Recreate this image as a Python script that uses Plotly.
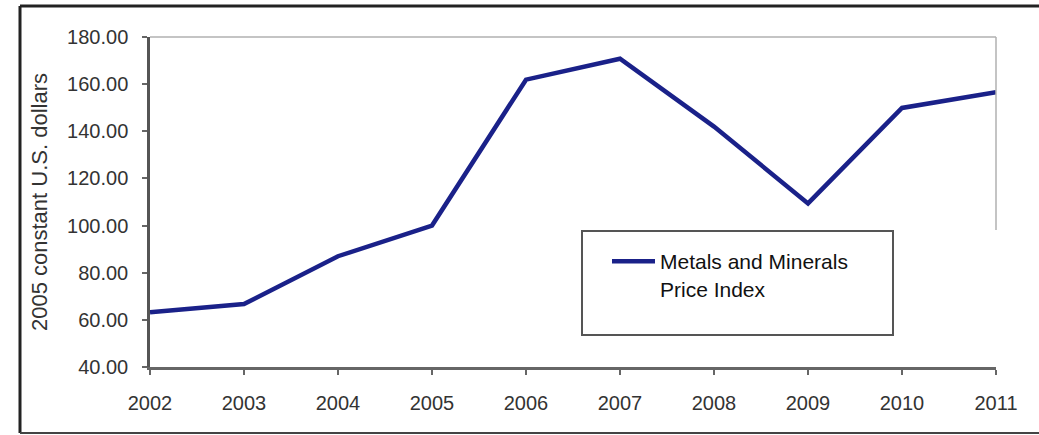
import plotly.graph_objects as go

years = [2002, 2003, 2004, 2005, 2006, 2007, 2008, 2009, 2010, 2011]
price_index = [63.2, 66.7, 87.0, 100.0, 161.9, 170.8, 142.0, 109.4, 149.9, 156.6]
series_name = "Metals and Minerals<br>Price Index"
y_title = "2005 constant U.S. dollars"
y_ticks = [40, 60, 80, 100, 120, 140, 160, 180]

W, H = 1039, 435
L, R, T, B = 150, 996, 37, 367  # plot area in pixels


def px_x(p):
    return (p - L) / (R - L)


def px_y(p):
    return (B - p) / (B - T)


fig = go.Figure()
fig.add_trace(go.Scatter(
    x=years, y=price_index, mode="lines", name=series_name,
    line=dict(color="#1a2189", width=4.5),
))

FONT = "Liberation Sans, Arial, sans-serif"
shapes = [
    # outer frame
    dict(type="line", xref="paper", yref="paper", x0=px_x(20), x1=px_x(1045), y0=px_y(6), y1=px_y(6),
         line=dict(color="#222222", width=3)),
    dict(type="line", xref="paper", yref="paper", x0=px_x(20), x1=px_x(20), y0=px_y(6), y1=px_y(433),
         line=dict(color="#222222", width=3)),
    dict(type="line", xref="paper", yref="paper", x0=px_x(20), x1=px_x(1045), y0=px_y(433), y1=px_y(433),
         line=dict(color="#444444", width=2)),
    # plot area top and partial right border
    dict(type="line", xref="paper", yref="paper", x0=0, x1=1, y0=1, y1=1,
         line=dict(color="#b0b0b0", width=1.5)),
    dict(type="line", xref="paper", yref="paper", x0=1, x1=1, y0=1, y1=px_y(230),
         line=dict(color="#b0b0b0", width=1.5)),
    # legend frame
    dict(type="rect", xref="paper", yref="paper", x0=px_x(582), x1=px_x(893), y0=px_y(231), y1=px_y(335),
         line=dict(color="#555555", width=2), fillcolor="rgba(255,255,255,0)"),
]

fig.update_layout(
    width=W, height=H,
    margin=dict(l=L, r=W - R, t=T, b=H - B, autoexpand=False),
    paper_bgcolor="white", plot_bgcolor="white",
    font=dict(family=FONT, size=20, color="#333333"),
    showlegend=True,
    legend=dict(x=px_x(607), y=px_y(241), xanchor="left", yanchor="top", valign="top",
                itemwidth=43,
                bgcolor="rgba(255,255,255,0)", borderwidth=0,
                font=dict(family=FONT, size=21, color="#111111")),
    shapes=shapes,
    xaxis=dict(range=[2002, 2011], tickvals=years, ticktext=[str(y) for y in years],
               showgrid=False, zeroline=False, showline=True, linecolor="#666666", linewidth=2.5,
               ticks="outside", ticklen=5, tickwidth=2, tickcolor="#666666",
               ticklabelstandoff=11, tickfont=dict(size=20, color="#333333")),
    yaxis=dict(range=[40, 180], tickvals=y_ticks, tickformat=".2f",
               showgrid=False, zeroline=False, showline=True, linecolor="#555555", linewidth=2.5,
               ticks="outside", ticklen=5, tickwidth=2, tickcolor="#666666",
               ticklabelstandoff=10, tickfont=dict(size=20, color="#333333"),
               title=dict(text=y_title, font=dict(size=22, color="#333333"), standoff=14)),
)

fig.write_html("out.html")
